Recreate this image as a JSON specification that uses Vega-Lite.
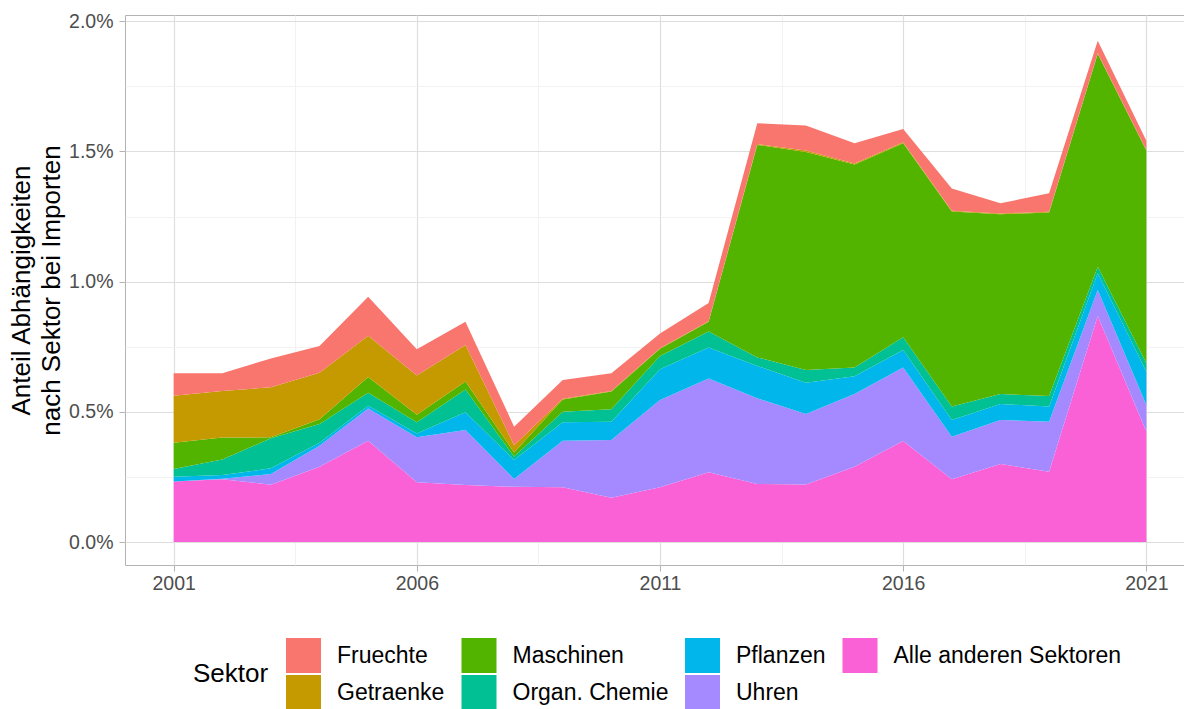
{
  "$schema": "https://vega.github.io/schema/vega-lite/v6.json",
  "autosize": "none",
  "width": 1070,
  "height": 550,
  "padding": {"left": 125, "top": 15, "right": 0, "bottom": 144},
  "background": "white",
  "config": {
    "font": "Liberation Sans",
    "view": {"stroke": "#b3b3b3", "strokeWidth": 1},
    "axis": {
      "labelFont": "Liberation Sans",
      "titleFont": "Liberation Sans",
      "labelColor": "#4d4d4d",
      "labelFontSize": 19.5,
      "tickColor": "#b3b3b3",
      "tickSize": 6,
      "domain": false
    },
    "legend": {
      "labelFont": "Liberation Sans",
      "titleFont": "Liberation Sans"
    }
  },
  "datasets": {
    "rang": [
      {"Sektor": "Alle anderen Sektoren", "Rang": 1},
      {"Sektor": "Uhren", "Rang": 2},
      {"Sektor": "Pflanzen", "Rang": 3},
      {"Sektor": "Organ. Chemie", "Rang": 4},
      {"Sektor": "Maschinen", "Rang": 5},
      {"Sektor": "Getraenke", "Rang": 6},
      {"Sektor": "Fruechte", "Rang": 7}
    ]
  },
  "data": {
    "values": [
      {"Jahr": 2001, "Sektor": "Alle anderen Sektoren", "Anteil": 0.232},
      {"Jahr": 2001, "Sektor": "Uhren", "Anteil": 0.0},
      {"Jahr": 2001, "Sektor": "Pflanzen", "Anteil": 0.019},
      {"Jahr": 2001, "Sektor": "Organ. Chemie", "Anteil": 0.029},
      {"Jahr": 2001, "Sektor": "Maschinen", "Anteil": 0.101},
      {"Jahr": 2001, "Sektor": "Getraenke", "Anteil": 0.181},
      {"Jahr": 2001, "Sektor": "Fruechte", "Anteil": 0.086},

      {"Jahr": 2002, "Sektor": "Alle anderen Sektoren", "Anteil": 0.241},
      {"Jahr": 2002, "Sektor": "Uhren", "Anteil": 0.002},
      {"Jahr": 2002, "Sektor": "Pflanzen", "Anteil": 0.014},
      {"Jahr": 2002, "Sektor": "Organ. Chemie", "Anteil": 0.060},
      {"Jahr": 2002, "Sektor": "Maschinen", "Anteil": 0.084},
      {"Jahr": 2002, "Sektor": "Getraenke", "Anteil": 0.179},
      {"Jahr": 2002, "Sektor": "Fruechte", "Anteil": 0.068},

      {"Jahr": 2003, "Sektor": "Alle anderen Sektoren", "Anteil": 0.220},
      {"Jahr": 2003, "Sektor": "Uhren", "Anteil": 0.041},
      {"Jahr": 2003, "Sektor": "Pflanzen", "Anteil": 0.022},
      {"Jahr": 2003, "Sektor": "Organ. Chemie", "Anteil": 0.115},
      {"Jahr": 2003, "Sektor": "Maschinen", "Anteil": 0.004},
      {"Jahr": 2003, "Sektor": "Getraenke", "Anteil": 0.192},
      {"Jahr": 2003, "Sektor": "Fruechte", "Anteil": 0.111},

      {"Jahr": 2004, "Sektor": "Alle anderen Sektoren", "Anteil": 0.289},
      {"Jahr": 2004, "Sektor": "Uhren", "Anteil": 0.081},
      {"Jahr": 2004, "Sektor": "Pflanzen", "Anteil": 0.011},
      {"Jahr": 2004, "Sektor": "Organ. Chemie", "Anteil": 0.072},
      {"Jahr": 2004, "Sektor": "Maschinen", "Anteil": 0.018},
      {"Jahr": 2004, "Sektor": "Getraenke", "Anteil": 0.179},
      {"Jahr": 2004, "Sektor": "Fruechte", "Anteil": 0.103},

      {"Jahr": 2005, "Sektor": "Alle anderen Sektoren", "Anteil": 0.389},
      {"Jahr": 2005, "Sektor": "Uhren", "Anteil": 0.124},
      {"Jahr": 2005, "Sektor": "Pflanzen", "Anteil": 0.010},
      {"Jahr": 2005, "Sektor": "Organ. Chemie", "Anteil": 0.050},
      {"Jahr": 2005, "Sektor": "Maschinen", "Anteil": 0.061},
      {"Jahr": 2005, "Sektor": "Getraenke", "Anteil": 0.158},
      {"Jahr": 2005, "Sektor": "Fruechte", "Anteil": 0.150},

      {"Jahr": 2006, "Sektor": "Alle anderen Sektoren", "Anteil": 0.229},
      {"Jahr": 2006, "Sektor": "Uhren", "Anteil": 0.173},
      {"Jahr": 2006, "Sektor": "Pflanzen", "Anteil": 0.015},
      {"Jahr": 2006, "Sektor": "Organ. Chemie", "Anteil": 0.043},
      {"Jahr": 2006, "Sektor": "Maschinen", "Anteil": 0.029},
      {"Jahr": 2006, "Sektor": "Getraenke", "Anteil": 0.150},
      {"Jahr": 2006, "Sektor": "Fruechte", "Anteil": 0.101},

      {"Jahr": 2007, "Sektor": "Alle anderen Sektoren", "Anteil": 0.219},
      {"Jahr": 2007, "Sektor": "Uhren", "Anteil": 0.211},
      {"Jahr": 2007, "Sektor": "Pflanzen", "Anteil": 0.068},
      {"Jahr": 2007, "Sektor": "Organ. Chemie", "Anteil": 0.088},
      {"Jahr": 2007, "Sektor": "Maschinen", "Anteil": 0.030},
      {"Jahr": 2007, "Sektor": "Getraenke", "Anteil": 0.141},
      {"Jahr": 2007, "Sektor": "Fruechte", "Anteil": 0.089},

      {"Jahr": 2008, "Sektor": "Alle anderen Sektoren", "Anteil": 0.212},
      {"Jahr": 2008, "Sektor": "Uhren", "Anteil": 0.030},
      {"Jahr": 2008, "Sektor": "Pflanzen", "Anteil": 0.073},
      {"Jahr": 2008, "Sektor": "Organ. Chemie", "Anteil": 0.013},
      {"Jahr": 2008, "Sektor": "Maschinen", "Anteil": 0.016},
      {"Jahr": 2008, "Sektor": "Getraenke", "Anteil": 0.028},
      {"Jahr": 2008, "Sektor": "Fruechte", "Anteil": 0.071},

      {"Jahr": 2009, "Sektor": "Alle anderen Sektoren", "Anteil": 0.210},
      {"Jahr": 2009, "Sektor": "Uhren", "Anteil": 0.179},
      {"Jahr": 2009, "Sektor": "Pflanzen", "Anteil": 0.071},
      {"Jahr": 2009, "Sektor": "Organ. Chemie", "Anteil": 0.040},
      {"Jahr": 2009, "Sektor": "Maschinen", "Anteil": 0.047},
      {"Jahr": 2009, "Sektor": "Getraenke", "Anteil": 0.003},
      {"Jahr": 2009, "Sektor": "Fruechte", "Anteil": 0.072},

      {"Jahr": 2010, "Sektor": "Alle anderen Sektoren", "Anteil": 0.170},
      {"Jahr": 2010, "Sektor": "Uhren", "Anteil": 0.222},
      {"Jahr": 2010, "Sektor": "Pflanzen", "Anteil": 0.070},
      {"Jahr": 2010, "Sektor": "Organ. Chemie", "Anteil": 0.048},
      {"Jahr": 2010, "Sektor": "Maschinen", "Anteil": 0.068},
      {"Jahr": 2010, "Sektor": "Getraenke", "Anteil": 0.002},
      {"Jahr": 2010, "Sektor": "Fruechte", "Anteil": 0.068},

      {"Jahr": 2011, "Sektor": "Alle anderen Sektoren", "Anteil": 0.210},
      {"Jahr": 2011, "Sektor": "Uhren", "Anteil": 0.335},
      {"Jahr": 2011, "Sektor": "Pflanzen", "Anteil": 0.118},
      {"Jahr": 2011, "Sektor": "Organ. Chemie", "Anteil": 0.051},
      {"Jahr": 2011, "Sektor": "Maschinen", "Anteil": 0.028},
      {"Jahr": 2011, "Sektor": "Getraenke", "Anteil": 0.002},
      {"Jahr": 2011, "Sektor": "Fruechte", "Anteil": 0.057},

      {"Jahr": 2012, "Sektor": "Alle anderen Sektoren", "Anteil": 0.268},
      {"Jahr": 2012, "Sektor": "Uhren", "Anteil": 0.360},
      {"Jahr": 2012, "Sektor": "Pflanzen", "Anteil": 0.119},
      {"Jahr": 2012, "Sektor": "Organ. Chemie", "Anteil": 0.061},
      {"Jahr": 2012, "Sektor": "Maschinen", "Anteil": 0.038},
      {"Jahr": 2012, "Sektor": "Getraenke", "Anteil": 0.002},
      {"Jahr": 2012, "Sektor": "Fruechte", "Anteil": 0.070},

      {"Jahr": 2013, "Sektor": "Alle anderen Sektoren", "Anteil": 0.223},
      {"Jahr": 2013, "Sektor": "Uhren", "Anteil": 0.329},
      {"Jahr": 2013, "Sektor": "Pflanzen", "Anteil": 0.124},
      {"Jahr": 2013, "Sektor": "Organ. Chemie", "Anteil": 0.033},
      {"Jahr": 2013, "Sektor": "Maschinen", "Anteil": 0.816},
      {"Jahr": 2013, "Sektor": "Getraenke", "Anteil": 0.003},
      {"Jahr": 2013, "Sektor": "Fruechte", "Anteil": 0.080},

      {"Jahr": 2014, "Sektor": "Alle anderen Sektoren", "Anteil": 0.221},
      {"Jahr": 2014, "Sektor": "Uhren", "Anteil": 0.271},
      {"Jahr": 2014, "Sektor": "Pflanzen", "Anteil": 0.120},
      {"Jahr": 2014, "Sektor": "Organ. Chemie", "Anteil": 0.049},
      {"Jahr": 2014, "Sektor": "Maschinen", "Anteil": 0.837},
      {"Jahr": 2014, "Sektor": "Getraenke", "Anteil": 0.005},
      {"Jahr": 2014, "Sektor": "Fruechte", "Anteil": 0.096},

      {"Jahr": 2015, "Sektor": "Alle anderen Sektoren", "Anteil": 0.289},
      {"Jahr": 2015, "Sektor": "Uhren", "Anteil": 0.279},
      {"Jahr": 2015, "Sektor": "Pflanzen", "Anteil": 0.069},
      {"Jahr": 2015, "Sektor": "Organ. Chemie", "Anteil": 0.033},
      {"Jahr": 2015, "Sektor": "Maschinen", "Anteil": 0.780},
      {"Jahr": 2015, "Sektor": "Getraenke", "Anteil": 0.004},
      {"Jahr": 2015, "Sektor": "Fruechte", "Anteil": 0.077},

      {"Jahr": 2016, "Sektor": "Alle anderen Sektoren", "Anteil": 0.388},
      {"Jahr": 2016, "Sektor": "Uhren", "Anteil": 0.282},
      {"Jahr": 2016, "Sektor": "Pflanzen", "Anteil": 0.067},
      {"Jahr": 2016, "Sektor": "Organ. Chemie", "Anteil": 0.049},
      {"Jahr": 2016, "Sektor": "Maschinen", "Anteil": 0.745},
      {"Jahr": 2016, "Sektor": "Getraenke", "Anteil": 0.004},
      {"Jahr": 2016, "Sektor": "Fruechte", "Anteil": 0.051},

      {"Jahr": 2017, "Sektor": "Alle anderen Sektoren", "Anteil": 0.241},
      {"Jahr": 2017, "Sektor": "Uhren", "Anteil": 0.163},
      {"Jahr": 2017, "Sektor": "Pflanzen", "Anteil": 0.065},
      {"Jahr": 2017, "Sektor": "Organ. Chemie", "Anteil": 0.051},
      {"Jahr": 2017, "Sektor": "Maschinen", "Anteil": 0.749},
      {"Jahr": 2017, "Sektor": "Getraenke", "Anteil": 0.003},
      {"Jahr": 2017, "Sektor": "Fruechte", "Anteil": 0.086},

      {"Jahr": 2018, "Sektor": "Alle anderen Sektoren", "Anteil": 0.300},
      {"Jahr": 2018, "Sektor": "Uhren", "Anteil": 0.169},
      {"Jahr": 2018, "Sektor": "Pflanzen", "Anteil": 0.061},
      {"Jahr": 2018, "Sektor": "Organ. Chemie", "Anteil": 0.038},
      {"Jahr": 2018, "Sektor": "Maschinen", "Anteil": 0.691},
      {"Jahr": 2018, "Sektor": "Getraenke", "Anteil": 0.003},
      {"Jahr": 2018, "Sektor": "Fruechte", "Anteil": 0.039},

      {"Jahr": 2019, "Sektor": "Alle anderen Sektoren", "Anteil": 0.270},
      {"Jahr": 2019, "Sektor": "Uhren", "Anteil": 0.192},
      {"Jahr": 2019, "Sektor": "Pflanzen", "Anteil": 0.058},
      {"Jahr": 2019, "Sektor": "Organ. Chemie", "Anteil": 0.041},
      {"Jahr": 2019, "Sektor": "Maschinen", "Anteil": 0.704},
      {"Jahr": 2019, "Sektor": "Getraenke", "Anteil": 0.003},
      {"Jahr": 2019, "Sektor": "Fruechte", "Anteil": 0.071},

      {"Jahr": 2020, "Sektor": "Alle anderen Sektoren", "Anteil": 0.868},
      {"Jahr": 2020, "Sektor": "Uhren", "Anteil": 0.100},
      {"Jahr": 2020, "Sektor": "Pflanzen", "Anteil": 0.064},
      {"Jahr": 2020, "Sektor": "Organ. Chemie", "Anteil": 0.025},
      {"Jahr": 2020, "Sektor": "Maschinen", "Anteil": 0.818},
      {"Jahr": 2020, "Sektor": "Getraenke", "Anteil": 0.002},
      {"Jahr": 2020, "Sektor": "Fruechte", "Anteil": 0.048},

      {"Jahr": 2021, "Sektor": "Alle anderen Sektoren", "Anteil": 0.424},
      {"Jahr": 2021, "Sektor": "Uhren", "Anteil": 0.102},
      {"Jahr": 2021, "Sektor": "Pflanzen", "Anteil": 0.128},
      {"Jahr": 2021, "Sektor": "Organ. Chemie", "Anteil": 0.032},
      {"Jahr": 2021, "Sektor": "Maschinen", "Anteil": 0.817},
      {"Jahr": 2021, "Sektor": "Getraenke", "Anteil": 0.002},
      {"Jahr": 2021, "Sektor": "Fruechte", "Anteil": 0.036}
    ]
  },
  "transform": [
    {"lookup": "Sektor", "from": {"data": {"name": "rang"}, "key": "Sektor", "fields": ["Rang"]}}
  ],
  "mark": {"type": "area", "interpolate": "linear", "strokeWidth": 0},
  "encoding": {
    "x": {
      "field": "Jahr",
      "type": "quantitative",
      "scale": {"domain": [2000, 2022], "nice": false, "zero": false},
      "axis": {
        "title": null,
        "values": [2001, 2003.5, 2006, 2008.5, 2011, 2013.5, 2016, 2018.5, 2021],
        "labelExpr": "(datum.value - 2001) % 5 == 0 ? format(datum.value, 'd') : ''",
        "labelPadding": 3,
        "labelFlush": false,
        "grid": true,
        "gridColor": {"condition": {"test": "(datum.value - 2001) % 5 != 0", "value": "#efefef"}, "value": "#dedede"},
        "gridWidth": {"condition": {"test": "(datum.value - 2001) % 5 != 0", "value": 0.8}, "value": 1.2},
        "tickOpacity": {"condition": {"test": "(datum.value - 2001) % 5 != 0", "value": 0}, "value": 1}
      }
    },
    "y": {
      "field": "Anteil",
      "type": "quantitative",
      "stack": "zero",
      "scale": {"domain": [-0.0883, 2.0238], "nice": false, "zero": false},
      "axis": {
        "title": ["Anteil Abhängigkeiten", "nach Sektor bei Importen"],
        "titleFontSize": 26,
        "titleFontWeight": "normal",
        "titleColor": "#000000",
        "titleLineHeight": 30,
        "titlePadding": 4,
        "values": [0, 0.25, 0.5, 0.75, 1, 1.25, 1.5, 1.75, 2],
        "labelExpr": "(datum.value * 4) % 2 == 0 ? format(datum.value, '.1f') + '%' : ''",
        "labelPadding": 6,
        "grid": true,
        "gridColor": {"condition": {"test": "(datum.value * 4) % 2 != 0", "value": "#efefef"}, "value": "#dedede"},
        "gridWidth": {"condition": {"test": "(datum.value * 4) % 2 != 0", "value": 0.8}, "value": 1.2},
        "tickOpacity": {"condition": {"test": "(datum.value * 4) % 2 != 0", "value": 0}, "value": 1}
      }
    },
    "color": {
      "field": "Sektor",
      "type": "nominal",
      "scale": {
        "domain": ["Fruechte", "Getraenke", "Maschinen", "Organ. Chemie", "Pflanzen", "Uhren", "Alle anderen Sektoren"],
        "range": ["#F8766D", "#C49A00", "#53B400", "#00C094", "#00B6EB", "#A58AFF", "#FB61D7"]
      },
      "legend": {
        "orient": "none",
        "legendX": 68,
        "legendY": 623,
        "columns": 4,
        "title": "Sektor",
        "titleOrient": "left",
        "titleAnchor": "middle",
        "titleBaseline": "middle",
        "titleFontSize": 26,
        "titleFontWeight": "normal",
        "titleColor": "#000000",
        "titlePadding": 17,
        "symbolType": "square",
        "symbolSize": 1225,
        "symbolStrokeWidth": 0,
        "symbolOpacity": 1,
        "labelFontSize": 23,
        "labelColor": "#000000",
        "labelOffset": 16,
        "columnPadding": 16.5,
        "rowPadding": 2,
        "labelLimit": 400
      }
    },
    "order": {"field": "Rang", "type": "quantitative", "sort": "ascending"}
  }
}
